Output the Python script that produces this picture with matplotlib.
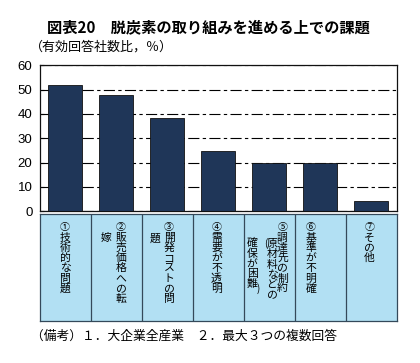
import matplotlib
matplotlib.use('Agg')  # no display available
import matplotlib.pyplot as plt

plt.rcParams['font.family'] = ['Noto Sans CJK JP', 'DejaVu Sans']

# chart data
title = '図表20　脱炭素の取り組みを進める上での課題'
unit_label = '（有効回答社数比，％）'
note = '（備考）１．大企業全産業　２．最大３つの複数回答'

numbers = ['①', '②', '③', '④', '⑤', '⑥', '⑦']
values = [52.1, 47.7, 38.5, 24.7, 20.0, 19.8, 4.1]
# vertical label text of each category, one string per column (right column first)
label_columns = [
    ['技術的な問題'],
    ['販売価格への転', '嫁'],
    ['開発コストの問', '題'],
    ['需要が不透明'],
    ['調達先の制約', '（原材料などの', '確保が困難）'],
    ['基準が不明確'],
    ['その他'],
]
yticks = [0, 10, 20, 30, 40, 50, 60]

# layout in pixels of the 420x363 picture
W, H = 420, 363
left_px, right_px = 39.5, 396.5
plot_top, plot_bottom = 65.3, 211.3
table_top, table_bottom = 214, 321
cell_px = (right_px - left_px) / len(values)
# x offset (px) of each text column from the cell centre, and first row y
col_dx = [[0], [5, -10], [2, -12], [-1.5], [13.5, 3, -17], [-9], [-1.7]]
col_y0 = [[237.5], [237.5, 237.5], [237.5, 238.5], [237.5],
          [237.5, 244, 243], [237.5], [237.5]]
row_step = 10.3

bar_color = '#1f3658'
table_color = '#b2e0f3'
line_color = '#34495a'

fig = plt.figure(figsize=(W / 100, H / 100), dpi=100)

# bar chart
ax = fig.add_axes([left_px / W, 1 - plot_bottom / H,
                   (right_px - left_px) / W, (plot_bottom - plot_top) / H])
x = list(range(len(values)))
ax.bar(x, values, width=0.68, color=bar_color, edgecolor='#111111', linewidth=0.6, zorder=3)
ax.set_xlim(-0.5, len(values) - 0.5)
ax.set_ylim(0, 60)
ax.set_yticks(yticks)
ax.set_yticklabels([str(t) for t in yticks], family='Liberation Sans', fontsize=9.5)
ax.set_xticks([])
ax.tick_params(axis='y', direction='in', length=3, pad=5, width=0.8)
ax.yaxis.grid(True, color='black', linewidth=0.8, linestyle=(0, (10, 3, 3, 3)))
ax.set_axisbelow(True)
for s in ax.spines.values():
    s.set_linewidth(0.9)
    s.set_color('#111111')

# table of category labels under the bars
tab = fig.add_axes([left_px / W, 1 - table_bottom / H,
                    (right_px - left_px) / W, (table_bottom - table_top) / H])
tab.set_xlim(-0.5, len(values) - 0.5)
tab.set_ylim(table_bottom, table_top)
tab.set_facecolor(table_color)
tab.set_xticks([])
tab.set_yticks([])
for s in tab.spines.values():
    s.set_linewidth(0.9)
    s.set_color(line_color)
for i in range(1, len(values)):
    tab.axvline(i - 0.5, color=line_color, linewidth=0.9)

for i, cols in enumerate(label_columns):
    first_x = i + col_dx[i][0] / cell_px
    tab.text(first_x, 227, numbers[i], ha='center', va='center', fontsize=7.2)
    for c, text in enumerate(cols):
        cx = i + col_dx[i][c] / cell_px
        y = col_y0[i][c]
        for ch in text:
            if ch == '（':
                tab.text(cx - 6.5 / cell_px, y, '(', ha='center', va='center', fontsize=7)
                continue
            if ch == '）':
                tab.text(cx + 6.5 / cell_px, y - row_step + 4, ')', ha='center', va='center', fontsize=7)
                continue
            tab.text(cx, y, ch, ha='center', va='center', fontsize=7.8)
            y += row_step

fig.text(208.5 / W, 1 - 27.5 / H, title, ha='center', va='center', fontsize=11, fontweight='bold')
fig.text(30 / W, 1 - 47.5 / H, unit_label, ha='left', va='center', fontsize=9.4)
fig.text(31 / W, 1 - 336 / H, note, ha='left', va='center', fontsize=9.2)

fig.savefig('out.png', dpi=100, facecolor='white')
